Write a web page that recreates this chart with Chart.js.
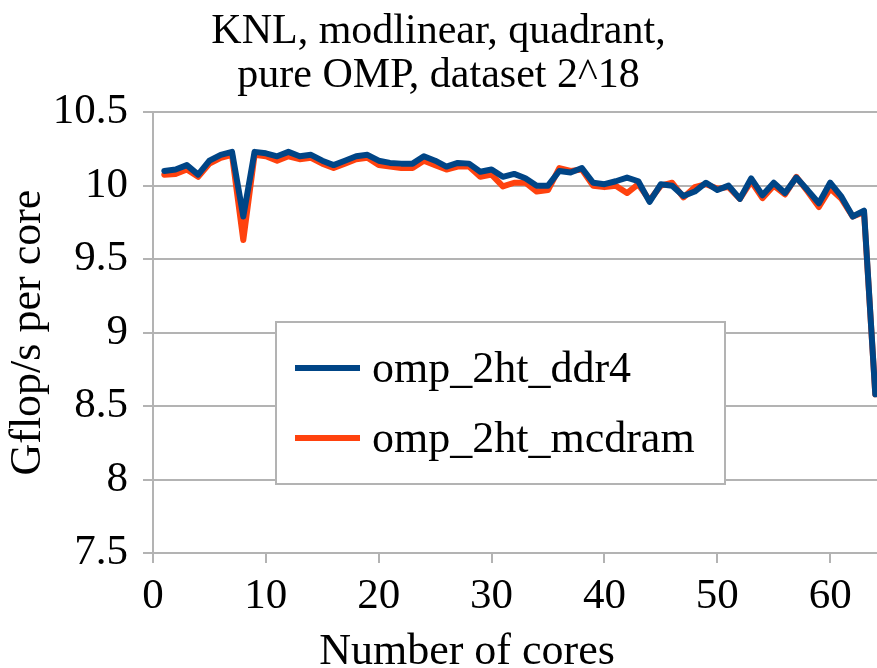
<!DOCTYPE html>
<html>
<head>
<meta charset="utf-8">
<script src="https://cdn.jsdelivr.net/npm/chart.js@4.4.1/dist/chart.umd.min.js"></script>
<style>
  html, body { margin: 0; padding: 0; background: #fff; }
  canvas { display: block; }
</style>
</head>
<body>
<canvas id="chart" width="877" height="668"></canvas>
<script>
// number of cores (x)
const cores = [1,2,3,4,5,6,7,8,9,10,11,12,13,14,15,16,17,18,19,20,21,22,23,24,25,26,27,28,29,30,31,32,
  33,34,35,36,37,38,39,40,41,42,43,44,45,46,47,48,49,50,51,52,53,54,55,56,57,58,59,60,61,62,63,64]

// Gflop/s per core
const ddr4 = [10.10,10.11,10.14,10.075,10.17,10.21,10.23,9.79,10.23,10.22,10.20,10.23,10.20,10.21,10.17,10.14,
  10.17,10.20,10.21,10.17,10.155,10.15,10.15,10.20,10.17,10.13,10.155,10.15,10.095,10.11,10.06,10.08,
  10.05,10.00,10.00,10.10,10.09,10.12,10.02,10.01,10.03,10.055,10.03,9.89,10.01,10.00,9.93,9.96,
  10.02,9.97,10.00,9.91,10.05,9.935,10.02,9.95,10.055,9.97,9.88,10.02,9.925,9.79,9.83,8.58]

const mcdram = [10.075,10.08,10.11,10.06,10.15,10.19,10.21,9.63,10.21,10.20,10.17,10.20,10.18,10.19,10.15,10.12,
  10.15,10.18,10.19,10.14,10.13,10.12,10.12,10.17,10.14,10.11,10.13,10.13,10.06,10.075,9.995,10.02,
  10.02,9.96,9.97,10.12,10.10,10.11,10.00,9.99,10.00,9.95,10.01,9.90,10.00,10.02,9.92,9.99,
  10.01,9.98,9.99,9.91,10.03,9.915,10.00,9.94,10.06,9.96,9.855,9.98,9.91,9.79,9.82,8.58]

const seriesNames = ['omp_2ht_ddr4','omp_2ht_mcdram']
const xTicks = [0,10,20,30,40,50,60]
const yTicks = [7.5,8,8.5,9,9.5,10,10.5]

const titleLines = ['KNL, modlinear, quadrant,','pure OMP, dataset 2^18']
const xTitle = 'Number of cores'
const yTitle = 'Gflop/s per core'

const BLUE = '#004586'
const ORANGE = '#ff420e'
const GRID = '#b3b3b3'
const FONT = "'Liberation Serif', 'Times New Roman', serif"

const toPoints = (vals) => cores.map((c,i) => ({x: c, y: vals[i]}))

// legend box drawn inside the plot, like the original
const boxLegend = {
    id: 'boxLegend',
    afterDraw(chart){
        const ctx = chart.ctx
        ctx.save()
        ctx.fillStyle = '#ffffff'
        ctx.fillRect(276,322,449,162)
        ctx.strokeStyle = GRID
        ctx.lineWidth = 2
        ctx.strokeRect(276,322,449,162)
        chart.data.datasets.forEach((ds,i) => {
            let y = 368 + i*70
            ctx.strokeStyle = ds.borderColor
            ctx.lineWidth = 6
            ctx.beginPath()
            ctx.moveTo(295,y)
            ctx.lineTo(360,y)
            ctx.stroke()
            ctx.fillStyle = '#000'
            ctx.font = '44px ' + FONT
            ctx.textBaseline = 'middle'
            ctx.textAlign = 'left'
            ctx.fillText(ds.label,372,y+2)
        })
        // x axis title sits a bit left of centre in the original
        ctx.font = '44px ' + FONT
        ctx.textAlign = 'center'
        ctx.textBaseline = 'alphabetic'
        ctx.fillText(xTitle,467,664)
        ctx.restore()
    }
}

new Chart(document.getElementById('chart'),{
    type: 'line',
    data: {
        datasets: [
            {label: seriesNames[0], data: toPoints(ddr4), borderColor: BLUE, backgroundColor: BLUE},
            {label: seriesNames[1], data: toPoints(mcdram), borderColor: ORANGE, backgroundColor: ORANGE}
        ]
    },
    options: {
        responsive: false,
        animation: false,
        devicePixelRatio: 1,
        layout: {padding: 0},
        elements: {
            line: {borderWidth: 6, tension: 0, borderJoinStyle: 'round', borderCapStyle: 'round'},
            point: {radius: 0}
        },
        plugins: {
            legend: {display: false},
            tooltip: {enabled: false},
            title: {
                display: true,
                text: titleLines,
                color: '#000',
                font: {family: FONT, size: 42, weight: 'normal', lineHeight: 1.05},
                padding: {top: 10, bottom: 14}
            }
        },
        scales: {
            x: {
                type: 'linear',
                min: 0,
                max: 64.15,
                afterBuildTicks: (scale) => { scale.ticks = xTicks.map(v => ({value: v})) },
                afterFit: (scale) => { scale.height = 115 },
                ticks: {color: '#000', font: {family: FONT, size: 43}, padding: 8, maxRotation: 0,
                    callback: (v) => String(v)},
                grid: {drawOnChartArea: false, drawTicks: true, tickLength: 10, color: GRID, lineWidth: 2},
                border: {color: GRID, width: 2},
                title: {display: false}
            },
            y: {
                type: 'linear',
                min: 7.5,
                max: 10.5,
                afterBuildTicks: (scale) => { scale.ticks = yTicks.map(v => ({value: v})) },
                afterFit: (scale) => { scale.width = 153 },
                ticks: {color: '#000', font: {family: FONT, size: 43}, padding: 15,
                    callback: (v) => String(v)},
                grid: {color: GRID, lineWidth: 2, tickLength: 10},
                border: {color: GRID, width: 2},
                title: {
                    display: true,
                    text: yTitle,
                    color: '#000',
                    font: {family: FONT, size: 44, lineHeight: 1.2},
                    padding: {top: 2, bottom: 0}
                }
            }
        }
    },
    plugins: [boxLegend]
})
</script>
</body>
</html>
